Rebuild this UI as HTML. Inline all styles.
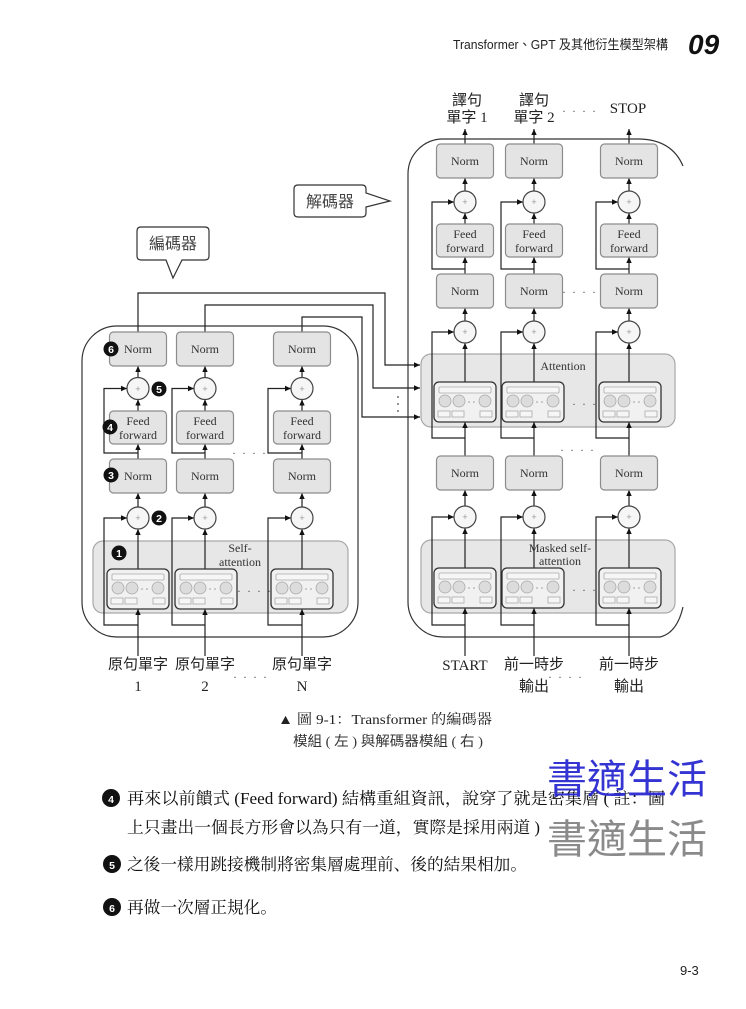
<!DOCTYPE html>
<html><head><meta charset="utf-8"><style>
html,body{margin:0;padding:0;background:#fff;}
svg{display:block;}
.bx{fill:#e4e4e4;stroke:#8c8c8c;stroke-width:1.2;}
.sec{fill:#e7e7e7;stroke:#a8a8a8;stroke-width:1.2;}
.ln{stroke:#222;stroke-width:1.2;fill:none;}
.pl{fill:#f6f6f6;stroke:#444;stroke-width:1.2;}
.t{font-family:"Liberation Serif",serif;font-size:12px;fill:#333;text-anchor:middle;}
.ps{font-family:"Liberation Sans",sans-serif;font-size:9px;fill:#999;text-anchor:middle;}
.lb{font-family:"Liberation Serif","Noto Sans CJK TC",sans-serif;font-size:15px;fill:#222;text-anchor:middle;}
.dots{font-family:"Liberation Serif",serif;font-size:12px;fill:#555;text-anchor:middle;letter-spacing:2px;}
.num{font-family:"Liberation Sans",sans-serif;font-size:10.5px;font-weight:bold;fill:#fff;text-anchor:middle;}
.body{font-family:"Liberation Serif","Noto Serif CJK SC",serif;font-size:16.5px;fill:#111;}
</style></head><body>
<svg width="746" height="1009" viewBox="0 0 746 1009" xmlns="http://www.w3.org/2000/svg">
<defs>
<marker id="a" viewBox="0 0 10 10" refX="10" refY="5" markerUnits="userSpaceOnUse" markerWidth="7" markerHeight="6" orient="auto"><path d="M0,0.5 L10,5 L0,9.5 z" fill="#111"/></marker>
<g id="card">
<rect x="0" y="0" width="62" height="40" rx="5" fill="#f1f1f1" stroke="#333" stroke-width="1.3"/>
<rect x="5" y="5" width="52" height="6" rx="1" fill="#f6f6f6" stroke="#aaa" stroke-width="0.8"/>
<circle cx="11" cy="19" r="6" fill="#dcdcdc" stroke="#aaa" stroke-width="0.8"/>
<circle cx="25" cy="19" r="6" fill="#dcdcdc" stroke="#aaa" stroke-width="0.8"/>
<circle cx="51" cy="19" r="6" fill="#dcdcdc" stroke="#aaa" stroke-width="0.8"/>
<circle cx="35" cy="20" r="0.8" fill="#999"/><circle cx="40" cy="20" r="0.8" fill="#999"/>
<rect x="4" y="29" width="12" height="6" fill="#f6f6f6" stroke="#aaa" stroke-width="0.8"/>
<rect x="18" y="29" width="12" height="6" fill="#f6f6f6" stroke="#aaa" stroke-width="0.8"/>
<rect x="46" y="29" width="12" height="6" fill="#f6f6f6" stroke="#aaa" stroke-width="0.8"/>
</g>
</defs>

<!-- Header -->
<text x="668" y="49" text-anchor="end" textLength="215" lengthAdjust="spacingAndGlyphs" font-family="Liberation Sans, Noto Sans CJK TC, sans-serif" font-size="13" fill="#222">Transformer、GPT 及其他衍生模型架構</text>
<text x="688" y="54" font-family="Liberation Sans, sans-serif" font-size="28" font-weight="bold" font-style="italic" fill="#111">09</text>

<!-- Callouts -->
<path d="M298,185 H362 Q366,185 366,189 V193 L390,201 L366,207 V213 Q366,217 362,217 H298 Q294,217 294,213 V189 Q294,185 298,185 Z" fill="#fff" stroke="#333" stroke-width="1.2"/>
<text x="330" y="207" text-anchor="middle" font-family="Noto Sans CJK TC, sans-serif" font-size="16" fill="#444">解碼器</text>
<path d="M141,227 H205 Q209,227 209,231 V256 Q209,260 205,260 H182 L173,278 L166,260 H141 Q137,260 137,256 V231 Q137,227 141,227 Z" fill="#fff" stroke="#333" stroke-width="1.2"/>
<text x="173" y="249" text-anchor="middle" font-family="Noto Sans CJK TC, sans-serif" font-size="16" fill="#444">編碼器</text>

<!-- Outer containers -->
<rect x="82" y="326" width="276" height="311" rx="35" fill="none" stroke="#333" stroke-width="1.2"/>
<path d="M640,139 L443,139 A35,35 0 0 0 408,174 L408,602 A35,35 0 0 0 443,637 L660,637 Q677,633 683,607" fill="none" stroke="#333" stroke-width="1.2"/>
<path d="M640,139 Q672,140 683,166" fill="none" stroke="#333" stroke-width="1.2"/>

<!-- Section boxes -->
<rect class="sec" x="93" y="541" width="255" height="72" rx="10"/>
<rect class="sec" x="421" y="354" width="254" height="73" rx="10"/>
<rect class="sec" x="421" y="540" width="254" height="73" rx="10"/>

<!-- Encoder -> decoder connectors -->
<path class="ln" d="M138,332 V293 H385 V365 H420" marker-end="url(#a)"/>
<path class="ln" d="M205,332 V305 H373 V388 H420" marker-end="url(#a)"/>
<path class="ln" d="M302,332 V317 H362 V417 H420" marker-end="url(#a)"/>
<circle cx="398" cy="397" r="0.9" fill="#444"/><circle cx="398" cy="404" r="0.9" fill="#444"/><circle cx="398" cy="411" r="0.9" fill="#444"/>

<!-- Encoder lines -->
<g class="ln">
<path d="M138,377.5 V366" marker-end="url(#a)"/><path d="M138,411 V399.5" marker-end="url(#a)"/><path d="M138,459 V444" marker-end="url(#a)"/>
<path d="M138,453 H104 V388.5 H127" marker-end="url(#a)"/><path d="M138,507 V493" marker-end="url(#a)"/><path d="M138,569 V529" marker-end="url(#a)"/>
<path d="M138,625 H104 V518 H127" marker-end="url(#a)"/><path d="M138,656 V609" marker-end="url(#a)"/>

<path d="M205,377.5 V366" marker-end="url(#a)"/><path d="M205,411 V399.5" marker-end="url(#a)"/><path d="M205,459 V444" marker-end="url(#a)"/>
<path d="M205,453 H172 V388.5 H194" marker-end="url(#a)"/><path d="M205,507 V493" marker-end="url(#a)"/><path d="M205,569 V529" marker-end="url(#a)"/>
<path d="M205,625 H172 V518 H194" marker-end="url(#a)"/><path d="M205,656 V609" marker-end="url(#a)"/>

<path d="M302,377.5 V366" marker-end="url(#a)"/><path d="M302,411 V399.5" marker-end="url(#a)"/><path d="M302,459 V444" marker-end="url(#a)"/>
<path d="M302,453 H268 V388.5 H291" marker-end="url(#a)"/><path d="M302,507 V493" marker-end="url(#a)"/><path d="M302,569 V529" marker-end="url(#a)"/>
<path d="M302,625 H268 V518 H291" marker-end="url(#a)"/><path d="M302,656 V609" marker-end="url(#a)"/>
</g>

<!-- Decoder lines -->
<g class="ln">
<path d="M465,144 V129" marker-end="url(#a)"/><path d="M465,191 V178" marker-end="url(#a)"/><path d="M465,224 V213" marker-end="url(#a)"/>
<path d="M465,274 V257" marker-end="url(#a)"/><path d="M465,269 H432 V202 H454" marker-end="url(#a)"/><path d="M465,321 V308" marker-end="url(#a)"/>
<path d="M465,382 V343" marker-end="url(#a)"/><path d="M465,456 V422" marker-end="url(#a)"/><path d="M465,438 H432 V332 H454" marker-end="url(#a)"/>
<path d="M465,506 V490" marker-end="url(#a)"/><path d="M465,568 V528" marker-end="url(#a)"/><path d="M465,625 H432 V517 H454" marker-end="url(#a)"/>
<path d="M465,656 V608" marker-end="url(#a)"/>

<path d="M534,144 V129" marker-end="url(#a)"/><path d="M534,191 V178" marker-end="url(#a)"/><path d="M534,224 V213" marker-end="url(#a)"/>
<path d="M534,274 V257" marker-end="url(#a)"/><path d="M534,269 H501 V202 H523" marker-end="url(#a)"/><path d="M534,321 V308" marker-end="url(#a)"/>
<path d="M534,382 V343" marker-end="url(#a)"/><path d="M534,456 V422" marker-end="url(#a)"/><path d="M534,438 H501 V332 H523" marker-end="url(#a)"/>
<path d="M534,506 V490" marker-end="url(#a)"/><path d="M534,568 V528" marker-end="url(#a)"/><path d="M534,625 H501 V517 H523" marker-end="url(#a)"/>
<path d="M534,656 V608" marker-end="url(#a)"/>

<path d="M629,144 V129" marker-end="url(#a)"/><path d="M629,191 V178" marker-end="url(#a)"/><path d="M629,224 V213" marker-end="url(#a)"/>
<path d="M629,274 V257" marker-end="url(#a)"/><path d="M629,269 H596 V202 H618" marker-end="url(#a)"/><path d="M629,321 V308" marker-end="url(#a)"/>
<path d="M629,382 V343" marker-end="url(#a)"/><path d="M629,456 V422" marker-end="url(#a)"/><path d="M629,438 H596 V332 H618" marker-end="url(#a)"/>
<path d="M629,506 V490" marker-end="url(#a)"/><path d="M629,568 V528" marker-end="url(#a)"/><path d="M629,625 H596 V517 H618" marker-end="url(#a)"/>
<path d="M629,656 V608" marker-end="url(#a)"/>
</g>

<!-- Encoder boxes -->
<g>
<rect class="bx" x="109.5" y="332" width="57" height="34" rx="4"/><text class="t" x="138" y="353">Norm</text>
<rect class="bx" x="176.5" y="332" width="57" height="34" rx="4"/><text class="t" x="205" y="353">Norm</text>
<rect class="bx" x="273.5" y="332" width="57" height="34" rx="4"/><text class="t" x="302" y="353">Norm</text>

<circle class="pl" cx="138" cy="388.5" r="11"/><text class="ps" x="138" y="392">+</text>
<circle class="pl" cx="205" cy="388.5" r="11"/><text class="ps" x="205" y="392">+</text>
<circle class="pl" cx="302" cy="388.5" r="11"/><text class="ps" x="302" y="392">+</text>

<rect class="bx" x="109.5" y="411" width="57" height="33" rx="4"/><text class="t" x="138" y="425">Feed</text><text class="t" x="138" y="439">forward</text>
<rect class="bx" x="176.5" y="411" width="57" height="33" rx="4"/><text class="t" x="205" y="425">Feed</text><text class="t" x="205" y="439">forward</text>
<rect class="bx" x="273.5" y="411" width="57" height="33" rx="4"/><text class="t" x="302" y="425">Feed</text><text class="t" x="302" y="439">forward</text>

<rect class="bx" x="109.5" y="459" width="57" height="34" rx="4"/><text class="t" x="138" y="480">Norm</text>
<rect class="bx" x="176.5" y="459" width="57" height="34" rx="4"/><text class="t" x="205" y="480">Norm</text>
<rect class="bx" x="273.5" y="459" width="57" height="34" rx="4"/><text class="t" x="302" y="480">Norm</text>

<circle class="pl" cx="138" cy="518" r="11"/><text class="ps" x="138" y="521">+</text>
<circle class="pl" cx="205" cy="518" r="11"/><text class="ps" x="205" y="521">+</text>
<circle class="pl" cx="302" cy="518" r="11"/><text class="ps" x="302" y="521">+</text>

<use href="#card" x="107" y="569"/><use href="#card" x="175" y="569"/><use href="#card" x="271" y="569"/>
<text class="t" x="240" y="552" font-size="11.5">Self-</text><text class="t" x="240" y="566" font-size="11.5">attention</text>
<text class="dots" x="250" y="454">. . . .</text>
<text class="dots" x="255" y="592">. . . .</text>
</g>

<!-- Decoder boxes -->
<g>
<rect class="bx" x="436.5" y="144" width="57" height="34" rx="4"/><text class="t" x="465" y="165">Norm</text>
<rect class="bx" x="505.5" y="144" width="57" height="34" rx="4"/><text class="t" x="534" y="165">Norm</text>
<rect class="bx" x="600.5" y="144" width="57" height="34" rx="4"/><text class="t" x="629" y="165">Norm</text>

<circle class="pl" cx="465" cy="202" r="11"/><text class="ps" x="465" y="205">+</text>
<circle class="pl" cx="534" cy="202" r="11"/><text class="ps" x="534" y="205">+</text>
<circle class="pl" cx="629" cy="202" r="11"/><text class="ps" x="629" y="205">+</text>

<rect class="bx" x="436.5" y="224" width="57" height="33" rx="4"/><text class="t" x="465" y="238">Feed</text><text class="t" x="465" y="252">forward</text>
<rect class="bx" x="505.5" y="224" width="57" height="33" rx="4"/><text class="t" x="534" y="238">Feed</text><text class="t" x="534" y="252">forward</text>
<rect class="bx" x="600.5" y="224" width="57" height="33" rx="4"/><text class="t" x="629" y="238">Feed</text><text class="t" x="629" y="252">forward</text>

<rect class="bx" x="436.5" y="274" width="57" height="34" rx="4"/><text class="t" x="465" y="295">Norm</text>
<rect class="bx" x="505.5" y="274" width="57" height="34" rx="4"/><text class="t" x="534" y="295">Norm</text>
<rect class="bx" x="600.5" y="274" width="57" height="34" rx="4"/><text class="t" x="629" y="295">Norm</text>

<circle class="pl" cx="465" cy="332" r="11"/><text class="ps" x="465" y="335">+</text>
<circle class="pl" cx="534" cy="332" r="11"/><text class="ps" x="534" y="335">+</text>
<circle class="pl" cx="629" cy="332" r="11"/><text class="ps" x="629" y="335">+</text>

<text class="t" x="563" y="370" font-size="13">Attention</text>
<use href="#card" x="434" y="382"/><use href="#card" x="502" y="382"/><use href="#card" x="599" y="382"/>

<rect class="bx" x="436.5" y="456" width="57" height="34" rx="4"/><text class="t" x="465" y="477">Norm</text>
<rect class="bx" x="505.5" y="456" width="57" height="34" rx="4"/><text class="t" x="534" y="477">Norm</text>
<rect class="bx" x="600.5" y="456" width="57" height="34" rx="4"/><text class="t" x="629" y="477">Norm</text>

<circle class="pl" cx="465" cy="517" r="11"/><text class="ps" x="465" y="520">+</text>
<circle class="pl" cx="534" cy="517" r="11"/><text class="ps" x="534" y="520">+</text>
<circle class="pl" cx="629" cy="517" r="11"/><text class="ps" x="629" y="520">+</text>

<text class="t" x="560" y="552" font-size="11">Masked self-</text><text class="t" x="560" y="565" font-size="11">attention</text>
<use href="#card" x="434" y="568"/><use href="#card" x="502" y="568"/><use href="#card" x="599" y="568"/>

<text class="dots" x="580" y="293">. . . .</text>
<text class="dots" x="580" y="405">. . . .</text>
<text class="dots" x="578" y="451">. . . .</text>
<text class="dots" x="580" y="591">. . . .</text>
</g>

<!-- Number markers in diagram -->
<g>
<circle cx="119" cy="553" r="7.5" fill="#111"/><text class="num" x="119" y="557">1</text>
<circle cx="159" cy="518" r="7.5" fill="#111"/><text class="num" x="159" y="522">2</text>
<circle cx="111" cy="475" r="7.5" fill="#111"/><text class="num" x="111" y="479">3</text>
<circle cx="110" cy="427" r="7.5" fill="#111"/><text class="num" x="110" y="431">4</text>
<circle cx="159" cy="389" r="7.5" fill="#111"/><text class="num" x="159" y="393">5</text>
<circle cx="111" cy="349" r="7.5" fill="#111"/><text class="num" x="111" y="353">6</text>
</g>

<!-- Labels -->
<text class="lb" x="138" y="669">原句單字</text><text class="lb" x="138" y="691">1</text>
<text class="lb" x="205" y="669">原句單字</text><text class="lb" x="205" y="691">2</text>
<text class="lb" x="302" y="669">原句單字</text><text class="lb" x="302" y="691">N</text>
<text class="dots" x="251" y="678">. . . .</text>

<text class="lb" x="465" y="670">START</text>
<text class="lb" x="534" y="669">前一時步</text><text class="lb" x="534" y="691">輸出</text>
<text class="lb" x="629" y="669">前一時步</text><text class="lb" x="629" y="691">輸出</text>
<text class="dots" x="566" y="678">. . . .</text>

<text class="lb" x="467" y="105" font-size="14.5">譯句</text><text class="lb" x="467" y="122" font-size="14.5">單字 1</text>
<text class="lb" x="534" y="105" font-size="14.5">譯句</text><text class="lb" x="534" y="122" font-size="14.5">單字 2</text>
<text class="lb" x="628" y="113">STOP</text>
<text class="dots" x="580" y="112">. . . .</text>

<!-- Caption -->
<text x="278" y="724" textLength="214" lengthAdjust="spacingAndGlyphs" font-family="Liberation Serif, Noto Serif CJK SC, serif" font-size="14" fill="#222">▲ 圖 9-1：Transformer 的編碼器</text>
<text x="293" y="746" textLength="190" lengthAdjust="spacingAndGlyphs" font-family="Liberation Serif, Noto Sans CJK TC, sans-serif" font-size="14" fill="#333">模組 ( 左 ) 與解碼器模組 ( 右 )</text>

<!-- Body text -->
<circle cx="111" cy="798" r="9" fill="#111"/><text class="num" x="111" y="803" font-size="13">4</text>
<text class="body" x="127" y="804" textLength="538" lengthAdjust="spacingAndGlyphs">再來以前饋式 (Feed forward) 結構重組資訊，說穿了就是密集層 ( 註：圖</text>
<text class="body" x="127" y="833" textLength="413" lengthAdjust="spacingAndGlyphs">上只畫出一個長方形會以為只有一道，實際是採用兩道 )</text>

<circle cx="112" cy="864" r="9" fill="#111"/><text class="num" x="112" y="869" font-size="13">5</text>
<text class="body" x="127" y="870" textLength="400" lengthAdjust="spacingAndGlyphs">之後一樣用跳接機制將密集層處理前、後的結果相加。</text>

<circle cx="112" cy="907" r="9" fill="#111"/><text class="num" x="112" y="912" font-size="13">6</text>
<text class="body" x="127" y="913" textLength="150" lengthAdjust="spacingAndGlyphs">再做一次層正規化。</text>

<!-- Watermarks -->
<text x="547" y="793" textLength="160" lengthAdjust="spacingAndGlyphs" font-family="Noto Sans CJK TC, sans-serif" font-size="40" fill="#2a2ad0" opacity="0.95">書適生活</text>
<text x="547" y="853" textLength="160" lengthAdjust="spacingAndGlyphs" font-family="Noto Sans CJK TC, sans-serif" font-size="40" fill="#8a8a8a">書適生活</text>

<!-- Page number -->
<text x="680" y="975" font-family="Liberation Sans, sans-serif" font-size="13" fill="#222">9-3</text>
</svg>
</body></html>
